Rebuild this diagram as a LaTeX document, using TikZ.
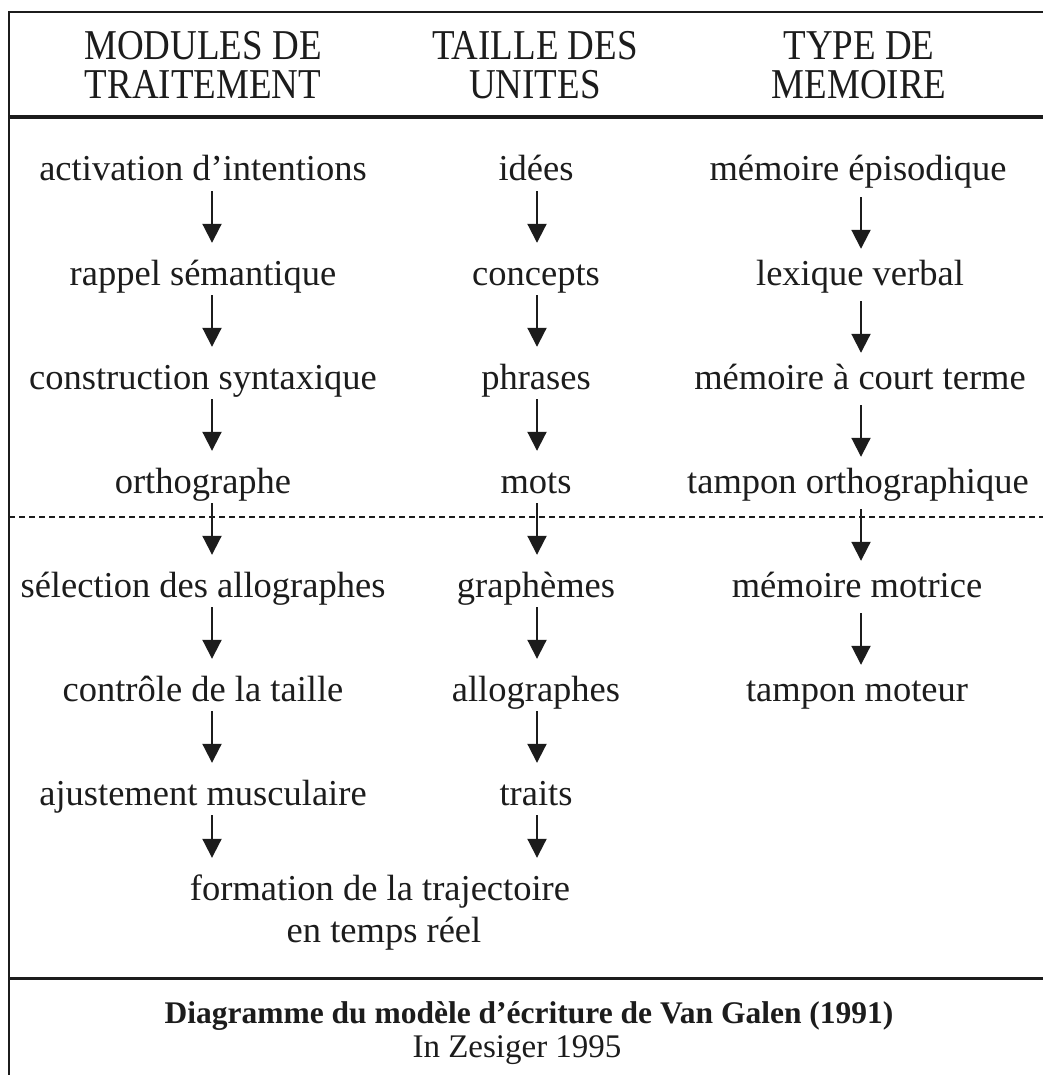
\documentclass[tikz,border=0pt]{standalone}
\usepackage{fontspec}
\setmainfont{Liberation Serif}
\newfontfamily\headfont{Liberation Serif}[FakeStretch=0.87]
\usetikzlibrary{arrows.meta}

\definecolor{ink}{RGB}{28,28,28}

\begin{document}
\begin{tikzpicture}[x=1pt,y=-1pt,
  every node/.style={inner sep=0pt, anchor=base, text height=30pt, text depth=10pt, text=ink},
  head/.style={font=\headfont\fontsize{42.5}{42.5}\selectfont, text height=29pt, text depth=1pt},
  body/.style={font=\fontsize{36.5}{40}\selectfont},
  capt/.style={font=\fontsize{33}{33}\selectfont, text height=23pt, text depth=4pt},
  flow/.style={draw=ink, line width=2pt, -{Triangle[width=19pt,length=19pt]}},
  leftflow/.style={flow, shorten >=12pt},
  rightflow/.style={flow, shorten <=6pt, shorten >=6pt},
  frame/.style={draw=ink, line width=2pt},
  band/.style={draw=ink, line width=3.5pt}
]
\useasboundingbox (0,0) rectangle (1043,1075);
\fill[white] (0,0) rectangle (1043,1075);

% frame and separators
\draw[frame] (9,1075) -- (9,12) -- (1043,12);
\draw[band] (9,117) -- (1043,117);
\draw[band, line width=3pt] (9,978) -- (1043,978);
\draw[draw=ink, line width=1.5pt, dash pattern=on 6pt off 4pt] (9,517) -- (1043,517);

% column headings
\node[head] (h1a) at (203,60) {MODULES DE};
\node[head] (h1b) at (203,99) {TRAITEMENT};
\node[head] (h2a) at (535,60) {TAILLE DES};
\node[head] (h2b) at (535,99) {UNITES};
\node[head] (h3a) at (859,60) {TYPE DE};
\node[head] (h3b) at (859,99) {MEMOIRE};

% processing modules
\node[body] (l1) at (203,181) {activation d’intentions};
\node[body] (l2) at (203,285) {rappel sémantique};
\node[body] (l3) at (203,389) {construction syntaxique};
\node[body] (l4) at (203,493) {orthographe};
\node[body] (l5) at (203,597) {sélection des allographes};
\node[body] (l6) at (203,701) {contrôle de la taille};
\node[body] (l7) at (203,805) {ajustement musculaire};

% unit sizes
\node[body] (m1) at (536,181) {idées};
\node[body] (m2) at (536,285) {concepts};
\node[body] (m3) at (536,389) {phrases};
\node[body] (m4) at (536,493) {mots};
\node[body] (m5) at (536,597) {graphèmes};
\node[body] (m6) at (536,701) {allographes};
\node[body] (m7) at (536,805) {traits};

% memory types
\node[body] (r1) at (858,181) {mémoire épisodique};
\node[body] (r2) at (860,285) {lexique verbal};
\node[body] (r3) at (860,389) {mémoire à court terme};
\node[body] (r4) at (858,493) {tampon orthographique};
\node[body] (r5) at (857,597) {mémoire motrice};
\node[body] (r6) at (857,701) {tampon moteur};

% common output
\node[body] (f1) at (380,900) {formation de la trajectoire};
\node[body] (f2) at (384,942) {en temps réel};

% arrows
\foreach \a/\b in {l1/l2,l2/l3,l3/l4,l4/l5,l5/l6,l6/l7}
  \draw[leftflow] ([xshift=9pt]\a.south) -- ([xshift=9pt]\b.north);
\foreach \a/\b in {m1/m2,m2/m3,m3/m4,m4/m5,m5/m6,m6/m7}
  \draw[leftflow] ([xshift=1pt]\a.south) -- ([xshift=1pt]\b.north);
\draw[rightflow] ([xshift=3pt]r1.south) -- ([xshift=3pt]r1.south |- r2.north);
\draw[rightflow] ([xshift=1pt]r2.south) -- ([xshift=1pt]r2.south |- r3.north);
\draw[rightflow] ([xshift=1pt]r3.south) -- ([xshift=1pt]r3.south |- r4.north);
\draw[rightflow] ([xshift=3pt]r4.south) -- ([xshift=3pt]r4.south |- r5.north);
\draw[rightflow] ([xshift=4pt]r5.south) -- ([xshift=4pt]r5.south |- r6.north);
\draw[leftflow] ([xshift=9pt]l7.south) -- ([xshift=9pt]l7.south |- f1.north);
\draw[leftflow] ([xshift=1pt]m7.south) -- ([xshift=1pt]m7.south |- f1.north);

% caption
\node[capt, font=\fontsize{31.5}{31.5}\selectfont\bfseries] (c1) at (529,1023) {Diagramme du modèle d’écriture de Van Galen (1991)};
\node[capt] (c2) at (517,1057) {In Zesiger 1995};
\end{tikzpicture}
\end{document}
